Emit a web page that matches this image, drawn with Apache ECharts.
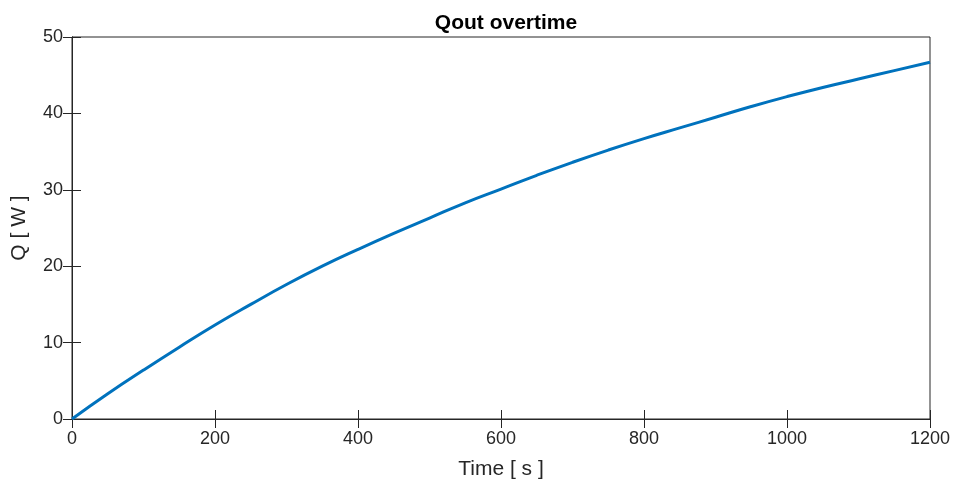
<!DOCTYPE html>
<html>
<head>
<meta charset="utf-8">
<script src="https://cdn.jsdelivr.net/npm/echarts@6/dist/echarts.min.js"></script>
<style>
  html, body { margin: 0; padding: 0; background: #fff; }
  #chart { width: 957px; height: 486px; }
</style>
</head>
<body>
<div id="chart"></div>
<script>
// time [s] and Qout [W]
const times = [0, 50, 100, 150, 200, 250, 300, 350, 400, 450, 500, 550, 600,
  650, 700, 750, 800, 850, 900, 950, 1000, 1050, 1100, 1150, 1200];
const qout = [0, 3.3, 6.4, 9.4, 12.3, 15.0, 17.6, 20.0, 22.2, 24.3, 26.3, 28.3, 30.1,
  31.9, 33.6, 35.2, 36.7, 38.1, 39.5, 40.9, 42.2, 43.4, 44.5, 45.6, 46.7];

const font = '"Liberation Sans", Arial, sans-serif';
const ink = '#262626';

const chart = echarts.init(document.getElementById('chart'));

const tickStyle = { show: true, inside: true, length: 9, lineStyle: { color: ink, width: 1 } };

chart.setOption({
  animation: false,
  title: {
    text: 'Qout overtime',
    left: 501,
    textAlign: 'center',
    top: 8,
    textStyle: { fontFamily: font, fontSize: 21, fontWeight: 'bold', color: '#000' }
  },
  grid: {
    left: 72, right: 27, top: 37, bottom: 67,
    show: true, borderColor: ink, borderWidth: 1, backgroundColor: '#fff'
  },
  xAxis: [
    {
      type: 'value', min: 0, max: 1200, interval: 200,
      name: 'Time [ s ]', nameLocation: 'middle', nameGap: 40,
      nameTextStyle: { fontFamily: font, fontSize: 21, color: ink },
      axisLine: { show: true, lineStyle: { color: ink } },
      axisTick: tickStyle,
      axisLabel: { fontFamily: font, fontSize: 18, color: ink, margin: 11, formatter: v => String(v) },
      splitLine: { show: false }
    },
    {
      type: 'value', min: 0, max: 1200, interval: 200, position: 'top',
      axisLine: { show: true, lineStyle: { color: ink } },
      axisTick: tickStyle, axisLabel: { show: false }, splitLine: { show: false }
    }
  ],
  yAxis: [
    {
      type: 'value', min: 0, max: 50, interval: 10,
      name: 'Q [ W ]', nameLocation: 'middle', nameGap: 42,
      nameTextStyle: { fontFamily: font, fontSize: 21, color: ink },
      axisLine: { show: true, lineStyle: { color: ink } },
      axisTick: tickStyle,
      axisLabel: { fontFamily: font, fontSize: 18, color: ink, margin: 9 },
      splitLine: { show: false }
    },
    {
      type: 'value', min: 0, max: 50, interval: 10, position: 'right',
      axisLine: { show: true, lineStyle: { color: ink } },
      axisTick: tickStyle, axisLabel: { show: false }, splitLine: { show: false }
    }
  ],
  series: [
    {
      name: 'Qout',
      type: 'line',
      data: times.map((t, i) => [t, qout[i]]),
      smooth: true,
      showSymbol: false,
      lineStyle: { color: '#0072BD', width: 3 }
    }
  ]
});
</script>
</body>
</html>
